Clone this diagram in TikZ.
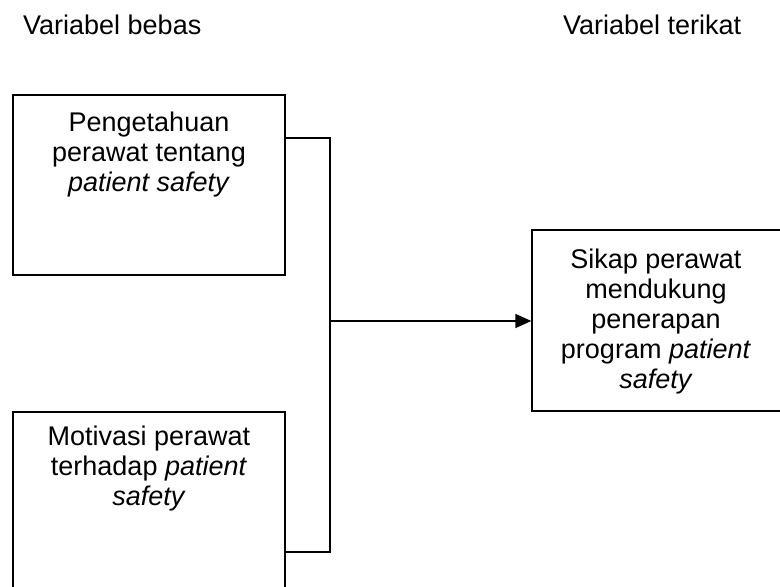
\documentclass[tikz,border=0pt]{standalone}
\usepackage{fontspec}
\setmainfont{Liberation Sans}
\usetikzlibrary{arrows.meta}
\begin{document}
\begin{tikzpicture}[x=1pt,y=-1pt,
  every node/.style={font=\fontsize{27}{30}\selectfont},
  box/.style={draw,line width=1.3pt,inner sep=0pt,rectangle},
  label/.style={inner sep=0pt,align=center,anchor=north},
  conn/.style={line width=1.3pt}]
\useasboundingbox (0,0) rectangle (780,587);
\node[box,minimum width=272pt,minimum height=180pt] (b1) at (149,185) {};
\node[box,minimum width=272pt,minimum height=208pt] (b2) at (149,516) {};
\node[box,minimum width=250pt,minimum height=181pt] (b3) at (657,320.5) {};
\node[label] (t1) at (149,111.5) {\rule{0pt}{20pt}Pengetahuan\\perawat tentang\\\textit{patient safety}};
\node[label] (t2) at (149,425) {\rule{0pt}{20pt}Motivasi perawat\\terhadap \textit{patient}\\\textit{safety}};
\node[label] (t3) at (656,248) {\rule{0pt}{20pt}Sikap perawat\\mendukung\\penerapan\\program \textit{patient}\\\textit{safety}};
\node[inner sep=0pt,anchor=base west] (h1) at (23,34) {Variabel bebas};
\node[inner sep=0pt,anchor=base west] (h2) at (563,34) {Variabel terikat};
\coordinate (j1) at (330,138);
\coordinate (j2) at (330,552);
\coordinate (jm) at (330,321);
\draw[conn] (b1.east |- j1) -- (j1) -- (j2) -- (b2.east |- j2);
\draw[conn,-{Triangle[length=16pt,width=14pt]}] (jm) -- (b3.west |- jm);
\end{tikzpicture}
\end{document}
